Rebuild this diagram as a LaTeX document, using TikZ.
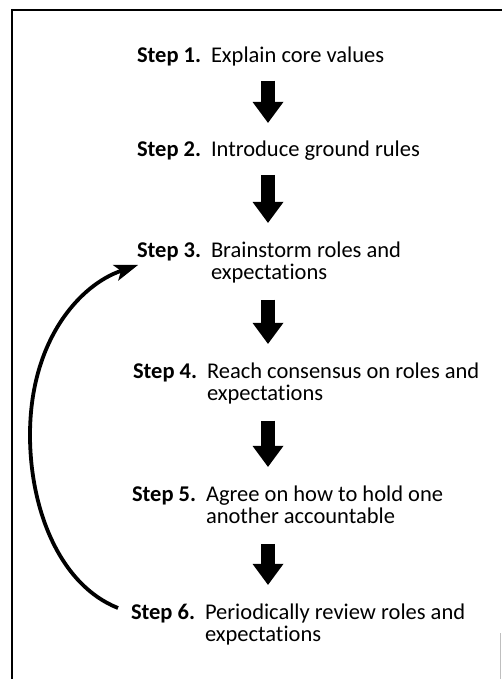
\documentclass[tikz,border=0pt]{standalone}
\usepackage{fontspec}
\setmainfont[Ligatures={NoCommon}]{Carlito}
\usetikzlibrary{arrows.meta,calc}
\newcommand{\steplabel}[1]{\makebox[74pt][l]{\bfseries Step #1.}}
\begin{document}
\begin{tikzpicture}[x=1pt,y=-1pt,
  stepnode/.style={anchor=base west, inner sep=0pt, outer sep=0pt, align=left, font=\fontsize{22.5}{22}\selectfont},
  blockarrow/.style={line width=14pt, -{Triangle[length=21pt,width=31pt,line width=0pt]}, shorten <=14pt, shorten >=18.5pt},
  cyclearrow/.style={line width=3.8pt, -{Stealth[length=24pt,width=17pt,inset=6pt,line width=0pt]}},
  frameline/.style={line width=2pt}]
\useasboundingbox (0,0) rectangle (502,679);
% frame
\draw[frameline] (12,10) -- (502,10);
\draw[frameline] (12,9) -- (12,679);
\draw[gray!50, line width=0.8pt] (500,633) -- (500,679);
% steps
\node[stepnode] (s1) at (137,63) {\steplabel{1}Explain core values};
\node[stepnode] (s2) at (137,157) {\steplabel{2}Introduce ground rules};
\node[stepnode] (s3) at (137,257) {\steplabel{3}\begin{tabular}[t]{@{}l@{}}Brainstorm roles and\\expectations\end{tabular}};
\node[stepnode] (s4) at (133,378) {\steplabel{4}\begin{tabular}[t]{@{}l@{}}Reach consensus on roles and\\expectations\end{tabular}};
\node[stepnode] (s5) at (132,501) {\steplabel{5}\begin{tabular}[t]{@{}l@{}}Agree on how to hold one\\another accountable\end{tabular}};
\node[stepnode] (s6) at (131,619) {\steplabel{6}\begin{tabular}[t]{@{}l@{}}Periodically review roles and\\expectations\end{tabular}};
% block arrows
\coordinate (ax) at (268,0);
\draw[blockarrow] (s1.south -| ax) -- (s2.north -| ax);
\draw[blockarrow] (s2.south -| ax) -- (s3.north -| ax);
\draw[blockarrow] (s3.south -| ax) -- (s4.north -| ax);
\draw[blockarrow] (s4.south -| ax) -- (s5.north -| ax);
\draw[blockarrow] (s5.south -| ax) -- (s6.north -| ax);
% return arrow
\draw[cyclearrow] ($(s6.base west)+(-13,-11)$) .. controls (60,585) and (30,510) .. (30,435)
  .. controls (30,340) and (80,285) .. ($(s3.base west)+(1,8)$);
\end{tikzpicture}
\end{document}
